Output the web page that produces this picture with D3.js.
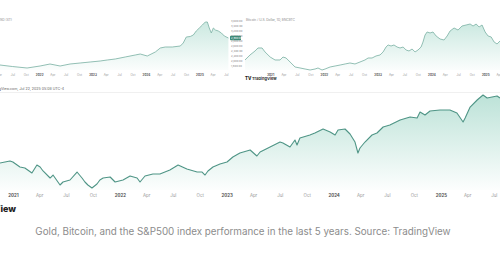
<!DOCTYPE html>
<html lang="en">
<head>
<meta charset="utf-8">
<title>Gold, Bitcoin and S&P500</title>
<script src="https://cdn.jsdelivr.net/npm/d3@7"></script>
<style>
  body { margin: 0; background: #fff; }
  svg { display: block; font-family: Inter, "Noto Sans", sans-serif; }
  .tiny { fill: #8a8a8a; }
</style>
</head>
<body>
<script>
// ---- data ----
// gold (top left panel)
var goldDates = ["2021-04-08","2021-07-01","2021-10-10","2022-01-07","2022-03-16","2022-05-24","2022-07-31","2022-10-08",
  "2022-12-15","2023-02-22","2023-04-11","2023-06-05","2023-08-12","2023-10-20","2023-11-23","2024-01-10","2024-03-05",
  "2024-04-08","2024-05-12","2024-06-29","2024-08-23","2024-09-12","2024-10-03","2024-10-30","2024-11-20","2024-12-10",
  "2024-12-31","2025-01-21","2025-02-10","2025-02-24","2025-03-09","2025-03-23","2025-04-06","2025-04-20","2025-05-10",
  "2025-05-31","2025-06-20","2025-07-18"];
var goldValues = [1820,1760,1700,1780,1860,1780,1860,1900,1940,1980,2020,2060,2140,2220,2260,2180,2340,
  2500,2540,2540,2580,2700,2940,2960,3020,3180,3300,3420,3540,3540,3300,3100,3300,3220,3180,3100,2980,2900];
var goldPriceTicks = [1800,2000,2200,2400,2600,2800,3000,3200,3400,3600];
var goldLast = 2900;
var goldTickDates = ["2021-04-01","2021-07-01","2021-10-01","2022-01-01","2022-04-01","2022-07-01","2022-10-01","2023-01-01",
  "2023-04-01","2023-07-01","2023-10-01","2024-01-01","2024-04-01","2024-07-01","2024-10-01","2025-01-01","2025-04-01","2025-07-01"];

// bitcoin (top right panel)
var btcDates = ["2020-07-14","2020-08-17","2020-09-20","2020-10-10","2020-11-07","2020-11-27","2021-01-01","2021-02-03",
  "2021-03-09","2021-03-29","2021-04-19","2021-05-16","2021-06-19","2021-07-23","2021-08-26","2021-09-29","2021-11-02",
  "2021-11-22","2021-12-19","2022-01-09","2022-02-12","2022-03-18","2022-04-21","2022-05-25","2022-06-27","2022-07-31",
  "2022-09-03","2022-10-07","2022-10-28","2022-11-24","2022-12-21","2023-01-17","2023-02-07","2023-02-27","2023-03-13",
  "2023-04-02","2023-04-22","2023-05-13","2023-06-02","2023-06-23","2023-07-13","2023-08-02","2023-08-23","2023-09-12",
  "2023-10-02","2023-10-23","2023-11-05","2023-11-19","2023-12-03","2023-12-23","2024-01-12","2024-02-02","2024-02-29",
  "2024-03-27","2024-04-17","2024-05-07","2024-06-03","2024-06-30","2024-07-27","2024-08-24","2024-09-20","2024-10-10",
  "2024-10-31","2024-11-20","2024-12-10","2024-12-31","2025-01-20","2025-02-10","2025-03-02","2025-03-22","2025-04-11"];
var btcValues = [34300,43400,50700,56200,56200,48900,39700,34300,34300,39700,37900,30600,21500,19700,17800,16000,17800,
  19700,16000,17800,21500,23300,25100,27000,28800,27000,30600,34300,37900,37900,41600,43400,48900,58000,61700,
  59800,61700,58000,56200,58000,52500,50700,54300,48900,52500,58000,67100,79900,85400,83600,85400,78100,72600,
  70800,78100,87200,92700,89000,96300,98200,100000,96300,100000,94500,98200,85400,78100,76300,67100,63500,69000];
var btcTickDates = ["2021-01-01","2021-04-01","2021-07-01","2021-10-01","2022-01-01","2022-04-01","2022-07-01","2022-10-01",
  "2023-01-01","2023-04-01","2023-07-01","2023-10-01","2024-01-01","2024-04-01","2024-07-01","2024-10-01","2025-01-01","2025-04-01"];

// S&P500 (bottom panel)
var spxDates = ["2020-11-18","2020-12-22","2021-01-01","2021-01-25","2021-02-11","2021-03-07","2021-03-24","2021-04-04",
  "2021-04-14","2021-05-08","2021-05-18","2021-06-11","2021-06-21","2021-07-15","2021-08-08","2021-08-25","2021-09-04",
  "2021-09-14","2021-09-28","2021-10-15","2021-10-25","2021-11-05","2021-11-29","2021-12-16","2022-01-12","2022-02-05",
  "2022-03-01","2022-03-11","2022-03-28","2022-04-24","2022-05-18","2022-06-21","2022-07-19","2022-08-18","2022-09-22",
  "2022-10-09","2022-10-19","2022-10-29","2022-11-15","2022-12-09","2023-01-02","2023-01-22","2023-02-15","2023-03-22",
  "2023-04-14","2023-04-25","2023-05-29","2023-07-02","2023-07-12","2023-08-05","2023-08-22","2023-08-29","2023-09-08",
  "2023-10-12","2023-10-29","2023-11-26","2023-12-20","2024-01-06","2024-01-16","2024-02-09","2024-02-26","2024-03-14",
  "2024-03-24","2024-03-31","2024-04-17","2024-05-11","2024-05-28","2024-06-18","2024-07-11","2024-08-15","2024-09-18",
  "2024-10-12","2024-10-22","2024-11-08","2024-11-25","2024-12-29","2025-02-01","2025-02-25","2025-03-18","2025-03-25",
  "2025-04-11","2025-05-05","2025-05-25","2025-06-08","2025-06-25","2025-07-12","2025-07-22"];
var spxValues = [4326,4384,4355,4210,4181,4035,4268,4210,4094,3890,3977,3687,3774,3832,4064,3890,3774,
  3687,3600,3716,3832,3890,3919,3774,3832,3948,3890,3774,3948,4006,4006,4123,4268,4152,4064,
  4064,3977,4094,4210,4297,4355,4500,4616,4703,4529,4645,4790,4935,4906,4790,4993,4848,5052,
  5139,5197,5313,5226,5139,5284,5313,5168,4935,4616,4761,4935,5139,5197,5371,5429,5574,5661,
  5632,5806,5719,5835,5864,5864,5777,5516,5632,5951,6155,6300,6213,6242,6271,6213];
var spxTickDates = ["2021-01-01","2021-04-01","2021-07-01","2021-10-01","2022-01-01","2022-04-01","2022-07-01","2022-10-01",
  "2023-01-01","2023-04-01","2023-07-01","2023-10-01","2024-01-01","2024-04-01","2024-07-01","2024-10-01","2025-01-01",
  "2025-04-01","2025-07-01"];

var caption = "Gold, Bitcoin, and the S&P500 index performance in the last 5 years. Source: TradingView";

// ---- drawing ----
var w = 500, h = 260;
var parse = d3.timeParse("%Y-%m-%d");

var svg = d3.select("body").append("svg")
  .attr("width", w).attr("height", h);
var defs = svg.append("defs");

function grad(id, y1, y2, top) {
  var g = defs.append("linearGradient").attr("id", id)
    .attr("gradientUnits", "userSpaceOnUse")
    .attr("x1", 0).attr("x2", 0).attr("y1", y1).attr("y2", y2);
  g.append("stop").attr("offset", 0).attr("stop-color", "#86cbb8").attr("stop-opacity", top);
  g.append("stop").attr("offset", 1).attr("stop-color", "#86cbb8").attr("stop-opacity", 0);
}

function fmtTick(d) {
  return d.getMonth() == 0 ? d3.timeFormat("%Y")(d) : d3.timeFormat("%b")(d);
}

function panel(o) {
  var data = o.dates.map(function (d, i) { return { date: parse(d), v: o.values[i] }; });
  var x = d3.scaleTime().domain(o.xDomain.map(parse)).range(o.xRange);
  var y = d3.scaleLinear().domain(o.yDomain).range(o.yRange);
  grad(o.id, y(o.yDomain[1]), o.base + 4, o.fillTop);

  var g = svg.append("g");
  g.append("path").datum(data)
    .attr("fill", "url(#" + o.id + ")")
    .attr("d", d3.area().x(function (d) { return x(d.date); })
      .y0(o.base).y1(function (d) { return y(d.v); }));
  g.append("path").datum(data)
    .attr("fill", "none")
    .attr("stroke", o.stroke)
    .attr("stroke-width", o.sw)
    .attr("stroke-linejoin", "round")
    .attr("d", d3.line().x(function (d) { return x(d.date); }).y(function (d) { return y(d.v); }));

  // time axis
  var ax = g.append("g").attr("transform", "translate(0," + o.tickY + ")")
    .call(d3.axisBottom(x).tickValues(o.ticks.map(parse)).tickSize(0).tickFormat(fmtTick));
  ax.select(".domain").remove();
  ax.selectAll("text")
    .attr("dy", 0)
    .style("font-family", "Inter, sans-serif")
    .style("font-size", o.tickFs + "px")
    .style("fill", function (d) { return d.getMonth() == 0 ? "#555" : "#9a9a9a"; })
    .style("font-weight", function (d) { return d.getMonth() == 0 ? 700 : 400; });
  return { x: x, y: y, g: g };
}

// gold
var gold = panel({
  id: "gGold", dates: goldDates, values: goldValues,
  xDomain: ["2021-04-08", "2025-07-22"], xRange: [0, 229],
  yDomain: [1700, 3500], yRange: [68, 23],
  base: 70, tickY: 73, ticks: goldTickDates, tickFs: 3,
  stroke: "#86b8ab", sw: 0.9, fillTop: 0.42
});
var pa = gold.g.append("g").attr("transform", "translate(231,0)");
pa.selectAll("text").data(goldPriceTicks).enter().append("text")
  .attr("x", 0).attr("y", function (d) { return gold.y(d) + 1; })
  .style("font-size", "2.7px").style("fill", "#888")
  .text(function (d) { return d3.format(",.2f")(d); });
pa.append("rect").attr("x", -1).attr("y", gold.y(goldLast) - 2.2)
  .attr("width", 11).attr("height", 4.4).attr("rx", 0.8).attr("fill", "#3f8a78");
pa.append("text").attr("x", 0).attr("y", gold.y(goldLast) + 1)
  .style("font-size", "2.7px").style("fill", "#fff")
  .text(d3.format(",.2f")(goldLast));
svg.append("text").attr("class", "tiny").attr("x", 12).attr("y", 21)
  .attr("text-anchor", "end").style("font-size", "3.2px").text("XAUUSD (XT)");

// bitcoin
var btc = panel({
  id: "gBtc", dates: btcDates, values: btcValues,
  xDomain: ["2020-07-14", "2025-04-11"], xRange: [245, 500],
  yDomain: [16000, 100000], yRange: [70, 24],
  base: 70, tickY: 73, ticks: btcTickDates, tickFs: 3,
  stroke: "#86b8ab", sw: 0.9, fillTop: 0.42
});
svg.append("text").attr("class", "tiny").attr("x", 246).attr("y", 21)
  .style("font-size", "3.2px").text("Bitcoin / U.S. Dollar, 1D, BNCBTC");
var tv = svg.append("g").attr("transform", "translate(245,80)");
tv.append("text").attr("x", 0).attr("y", 0)
  .style("font-size", "4.4px").style("font-weight", 800).style("fill", "#222").text("TV");
tv.append("text").attr("x", 7).attr("y", 0)
  .style("font-size", "4px").style("font-weight", 700).style("fill", "#333").text("TradingView");

// S&P500
svg.append("line").attr("x1", 0).attr("x2", w).attr("y1", 92.5).attr("y2", 92.5)
  .attr("stroke", "#f0f0f0").attr("stroke-width", 1);
var spx = panel({
  id: "gSpx", dates: spxDates, values: spxValues,
  xDomain: ["2020-11-18", "2025-07-22"], xRange: [0, 500],
  yDomain: [3600, 6300], yRange: [188, 95],
  base: 190, tickY: 194, ticks: spxTickDates, tickFs: 4.4,
  stroke: "#4f9586", sw: 1.1, fillTop: 0.55
});
svg.append("text").attr("class", "tiny").attr("x", -12).attr("y", 90)
  .style("font-size", "3.6px").style("fill", "#666").text("TradingView.com, Jul 22, 2025 05:08 UTC-4");
svg.append("text").attr("x", 16).attr("y", 212).attr("text-anchor", "end")
  .style("font-size", "9px").style("font-weight", 800).style("fill", "#222").text("TradingView");

// caption
svg.append("text").attr("x", 243).attr("y", 235).attr("text-anchor", "middle")
  .style("font-size", "9.8px").style("fill", "#8c8c8c").text(caption);
</script>
</body>
</html>
